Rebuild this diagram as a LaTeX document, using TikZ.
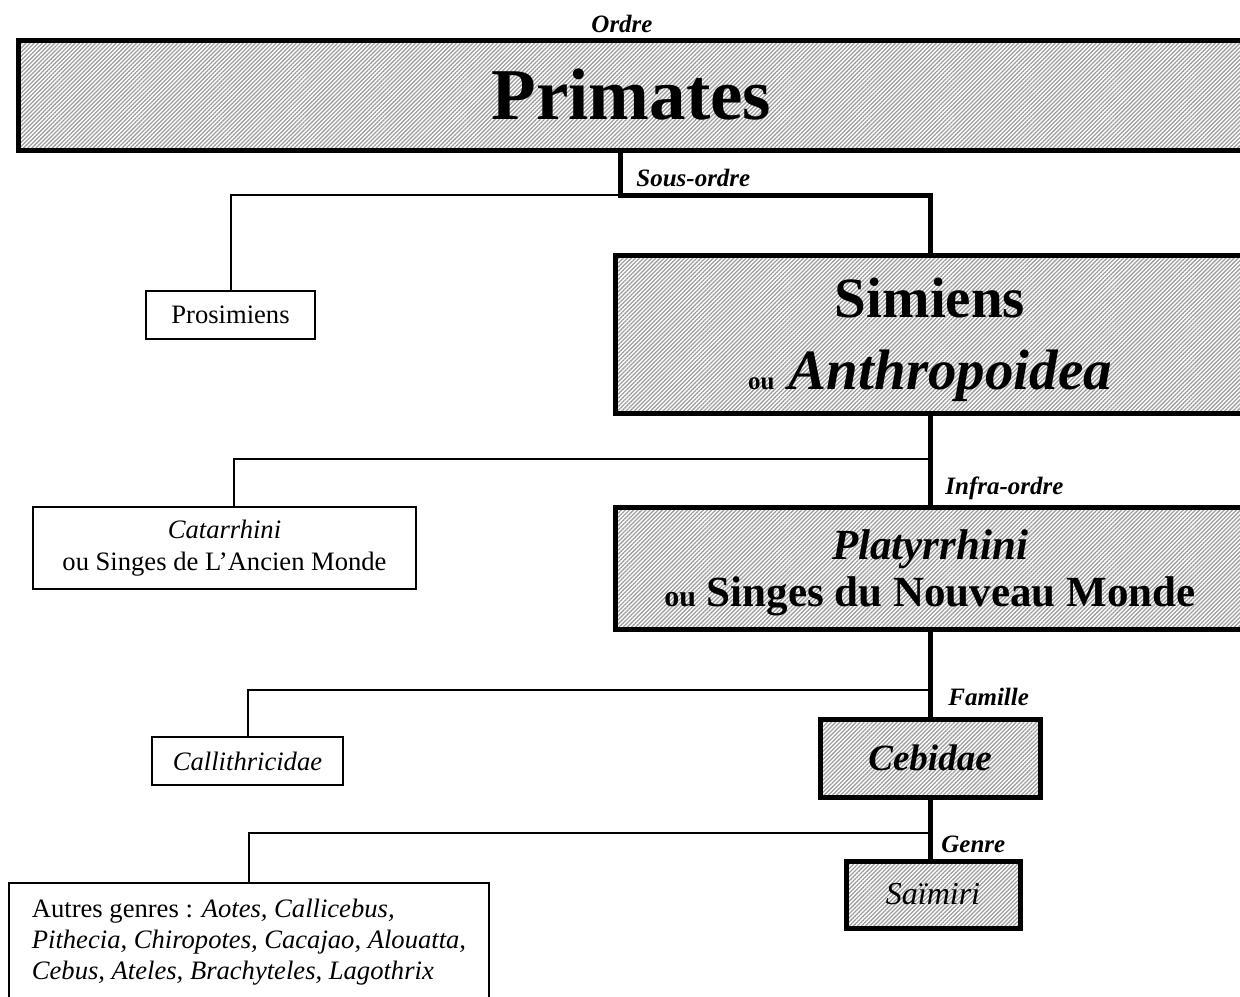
\documentclass[tikz,border=0pt]{standalone}
\usepackage{fontspec}
\setmainfont{Liberation Serif}
\usetikzlibrary{patterns.meta}
\newcommand{\fs}[2]{\fontsize{#1pt}{#2pt}\selectfont}
\tikzset{
    taxon/.style={draw,line width=2.5pt,pattern={Lines[angle=45,distance=1.45pt,line width=0.65pt]},pattern color=black!38,align=center,inner sep=0pt},
    other/.style={draw,line width=1pt,fill=white,align=center,inner sep=0pt,font=\fs{13.3}{16}},
    rank/.style={font=\fs{12.5}{15}\bfseries\itshape,inner sep=0pt},
    trunk/.style={line width=2.5pt},
    branch/.style={line width=1pt}
}

\begin{document}
\begin{tikzpicture}[x=0.5pt,y=-0.5pt]
    \useasboundingbox (0,0) rectangle (1240,996);
    \clip (0,0) rectangle (1240,996);
    % ordre
    \node[rank] (ordre) at (622,24) {Ordre};
    \node[taxon,minimum width=613.5pt,minimum height=55pt,font=\fs{36.5}{40}\bfseries] (primates) at (631.5,95) {Primates};
    % sous-ordre
    \node[rank,anchor=west] (sousordre) at (636,178) {Sous-ordre};
    \node[other,minimum width=84.5pt,minimum height=24pt] (prosim) at (230.5,315) {Prosimiens};
    \node[taxon,minimum width=315pt,minimum height=79pt,text depth=0pt,font=\fs{28.5}{36}\bfseries] (simiens) at (930,334)
        {Simiens\\{\fs{12.5}{36}ou} \textit{Anthropoidea}};
    % infra-ordre
    \node[rank,anchor=west] (infra) at (945,488) {Infra-ordre};
    \node[other,minimum width=191.5pt,minimum height=41pt] (catarr) at (224.5,548)
        {\textit{Catarrhini}\\ou Singes de L’Ancien Monde};
    \node[taxon,minimum width=315pt,minimum height=61pt,text depth=0pt,font=\fs{21.5}{23.5}\bfseries] (platy) at (930,568)
        {\textit{Platyrrhini}\\{\fs{15}{23.5}ou} Singes du Nouveau Monde};
    % famille
    \node[rank,anchor=west] (famille) at (948,697) {Famille};
    \node[other,minimum width=95.5pt,minimum height=24pt] (callith) at (247.5,761) {\textit{Callithricidae}};
    \node[taxon,minimum width=110pt,minimum height=39pt,font=\fs{18.5}{22}\bfseries\itshape] (cebidae) at (930,758) {Cebidae};
    % genre
    \node[rank,anchor=west] (genre) at (941,844) {Genre};
    \node[taxon,minimum width=87pt,minimum height=33.5pt,font=\fs{16}{19}\itshape] (saimiri) at (933,894.5) {Saïmiri};
    \node[other,anchor=north west,align=left,minimum width=240pt,inner ysep=8pt,text depth=38pt,font=\fs{13.3}{15.5}] (autres) at (8,882)
        {Autres genres : \textit{Aotes, Callicebus,}\\\textit{Pithecia, Chiropotes, Cacajao, Alouatta,}\\\textit{Cebus, Ateles, Brachyteles, Lagothrix}};

    \coordinate (j1) at (620,195);
    \coordinate (j2) at (930,459);
    \coordinate (j3) at (930,690);
    \coordinate (j4) at (930,833);

    \draw[trunk] (primates.south -| j1) -- (j1) -| (simiens.north);
    \draw[branch] (j1) -| (prosim.north);
    \draw[trunk] (simiens.south) -- (platy.north);
    \draw[branch] (j2) -| ([xshift=4.5pt]catarr.north);
    \draw[trunk] (platy.south) -- (cebidae.north);
    \draw[branch] (j3) -| (callith.north);
    \draw[trunk] (cebidae.south) -- (cebidae.south |- saimiri.north);
    \draw[branch] (j4) -| (autres.north);
\end{tikzpicture}
\end{document}
